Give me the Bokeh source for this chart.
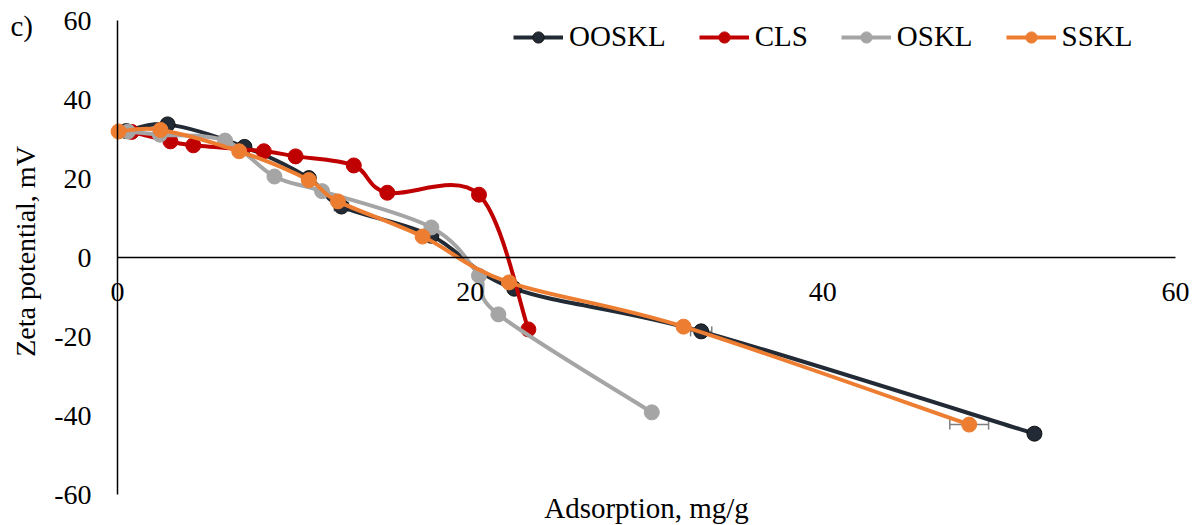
import numpy as np
from bokeh.plotting import figure
from bokeh.models import (ColumnDataSource, Legend, LegendItem, Label, Whisker,
                          TeeHead, FixedTicker, Range1d, LinearAxis,
                          CustomJSTickFormatter)
from bokeh.embed import file_html
from bokeh.resources import INLINE

# ---- data ----
series_names = ["OOSKL", "CLS", "OSKL", "SSKL"]
series_colors = ["#222A35", "#C00000", "#A5A5A5", "#ED7D31"]

ooskl_x = [0.5, 2.84, 7.2, 10.85, 12.7, 17.8, 22.5, 33.1, 52.0]
ooskl_y = [32.0, 33.7, 28.0, 20.1, 12.9, 5.5, -7.9, -18.7, -44.6]

cls_x = [0.8, 3.0, 4.3, 8.3, 10.1, 13.4, 15.3, 20.5, 23.3]
cls_y = [31.8, 29.4, 28.4, 26.9, 25.6, 23.3, 16.4, 15.9, -18.2]

oskl_x = [0.6, 2.4, 6.1, 8.9, 11.6, 17.8, 20.5, 21.6, 30.3]
oskl_y = [31.9, 31.1, 29.6, 20.5, 16.8, 7.6, -4.6, -14.4, -39.2]

sskl_x = [0.06, 2.44, 6.9, 10.85, 12.5, 17.3, 22.2, 32.1, 48.3]
sskl_y = [31.9, 32.3, 26.9, 19.6, 14.2, 5.3, -6.3, -17.5, -42.3]

# horizontal error bars (x, y, half width)
err_x = [12.7, 33.1, 52.0, 48.3]
err_y = [12.9, -18.7, -44.6, -42.3]
err_w = [0.4, 0.6, 0.3, 1.1]

x_ticks = [0, 20, 40, 60]
y_ticks = [-60, -40, -20, 0, 20, 40, 60]
x_bounds = (0, 60)
y_bounds = (-60, 60)

FONT = "Liberation Serif"
FS = "28px"
FS_T = "29px"

# plot frame covers the whole canvas; the axes sit inside at x=0 / y=0
W, H = 1194, 525
L, R, T, B = 117, 1175, 20, 494
xs_per = (x_bounds[1] - x_bounds[0]) / (R - L)
ys_per = (y_bounds[1] - y_bounds[0]) / (B - T)
xr = Range1d(x_bounds[0] - L * xs_per, x_bounds[1] + (W - R) * xs_per)
yr = Range1d(y_bounds[0] - (H - B) * ys_per, y_bounds[1] + T * ys_per)

p = figure(width=W, height=H, output_backend="svg", toolbar_location=None,
           x_range=xr, y_range=yr, x_axis_location=None, y_axis_location=None,
           min_border=0, min_border_left=0, min_border_right=0,
           min_border_top=0, min_border_bottom=0)
p.background_fill_color = "white"
p.border_fill_color = "white"
p.outline_line_color = None
p.xgrid.visible = False
p.ygrid.visible = False

fmt = CustomJSTickFormatter(code="return tick.toFixed(0);")
xax = LinearAxis(ticker=FixedTicker(ticks=x_ticks), bounds=x_bounds,
                 fixed_location=0, formatter=fmt)
yax = LinearAxis(ticker=FixedTicker(ticks=y_ticks), bounds=y_bounds,
                 fixed_location=0, formatter=fmt)
for ax in (xax, yax):
    ax.major_tick_in = 0
    ax.major_tick_out = 0
    ax.minor_tick_in = 0
    ax.minor_tick_out = 0
    ax.axis_line_color = "black"
    ax.axis_line_width = 1.5
    ax.major_label_text_font = FONT
    ax.major_label_text_font_size = FS
    ax.major_label_text_color = "black"
xax.major_label_standoff = 25
yax.major_label_standoff = 26
p.add_layout(xax, "below")
p.add_layout(yax, "left")

items = []


def bezier_cols(xs, ys):
    xs = np.asarray(xs, float)
    ys = np.asarray(ys, float)
    n = len(xs)
    d = dict(x0=[], y0=[], x1=[], y1=[], cx0=[], cy0=[], cx1=[], cy1=[])
    for i in range(n - 1):
        xm, ym = (xs[i - 1], ys[i - 1]) if i > 0 else (xs[i], ys[i])
        xp, yp = (xs[i + 2], ys[i + 2]) if i + 2 < n else (xs[i + 1], ys[i + 1])
        d["x0"].append(xs[i]); d["y0"].append(ys[i])
        d["x1"].append(xs[i + 1]); d["y1"].append(ys[i + 1])
        d["cx0"].append(xs[i] + (xs[i + 1] - xm) / 6)
        d["cy0"].append(ys[i] + (ys[i + 1] - ym) / 6)
        d["cx1"].append(xs[i + 1] - (xp - xs[i]) / 6)
        d["cy1"].append(ys[i + 1] - (yp - ys[i]) / 6)
    return d


all_x = [ooskl_x, cls_x, oskl_x, sskl_x]
all_y = [ooskl_y, cls_y, oskl_y, sskl_y]

for name, color, xs, ys in zip(series_names, series_colors, all_x, all_y):
    bsrc = ColumnDataSource(bezier_cols(xs, ys))
    p.bezier(x0="x0", y0="y0", x1="x1", y1="y1", cx0="cx0", cy0="cy0",
             cx1="cx1", cy1="cy1", source=bsrc, line_color=color, line_width=4)
    dummy = p.line(x=[np.nan], y=[np.nan], line_color=color, line_width=4)
    sc = p.scatter(x=xs, y=ys, size=15, fill_color=color,
                   line_color="#111111" if name == "OOSKL" else color,
                   line_width=1)
    items.append(LegendItem(label=name, renderers=[dummy, sc]))

esrc = ColumnDataSource(dict(y=err_y,
                             lower=[a - w for a, w in zip(err_x, err_w)],
                             upper=[a + w for a, w in zip(err_x, err_w)]))
p.add_layout(Whisker(base="y", lower="lower", upper="upper", dimension="width",
                     source=esrc, line_color="#7F7F7F", line_width=1.5,
                     upper_head=TeeHead(size=10, line_color="#7F7F7F", line_width=1.5),
                     lower_head=TeeHead(size=10, line_color="#7F7F7F", line_width=1.5)))

legend = Legend(items=items, orientation="horizontal",
                label_text_font=FONT, label_text_font_size=FS_T,
                label_text_color="black", glyph_width=50, glyph_height=28,
                label_standoff=6, spacing=33, padding=4, margin=0,
                border_line_color=None, background_fill_alpha=0)
legend.location = (513, H - 53)
p.add_layout(legend, "center")

p.add_layout(Label(x=30, y=y_bounds[0], text="Adsorption, mg/g", text_font=FONT,
                   text_font_size=FS_T, text_align="center",
                   text_baseline="middle", y_offset=-13, text_color="black"))
p.add_layout(Label(x=0, y=y_bounds[1], text="c)", text_font=FONT, text_font_size=FS_T,
                   text_align="left", text_baseline="middle", x_offset=-107,
                   y_offset=-5, text_color="black"))
p.add_layout(Label(x=0, y=0, text="Zeta potential, mV", text_font=FONT,
                   text_font_size=FS, text_align="center", text_baseline="middle",
                   angle=np.pi / 2, x_offset=-92, y_offset=6, text_color="black"))

open("out.html", "w").write(file_html(p, INLINE))
